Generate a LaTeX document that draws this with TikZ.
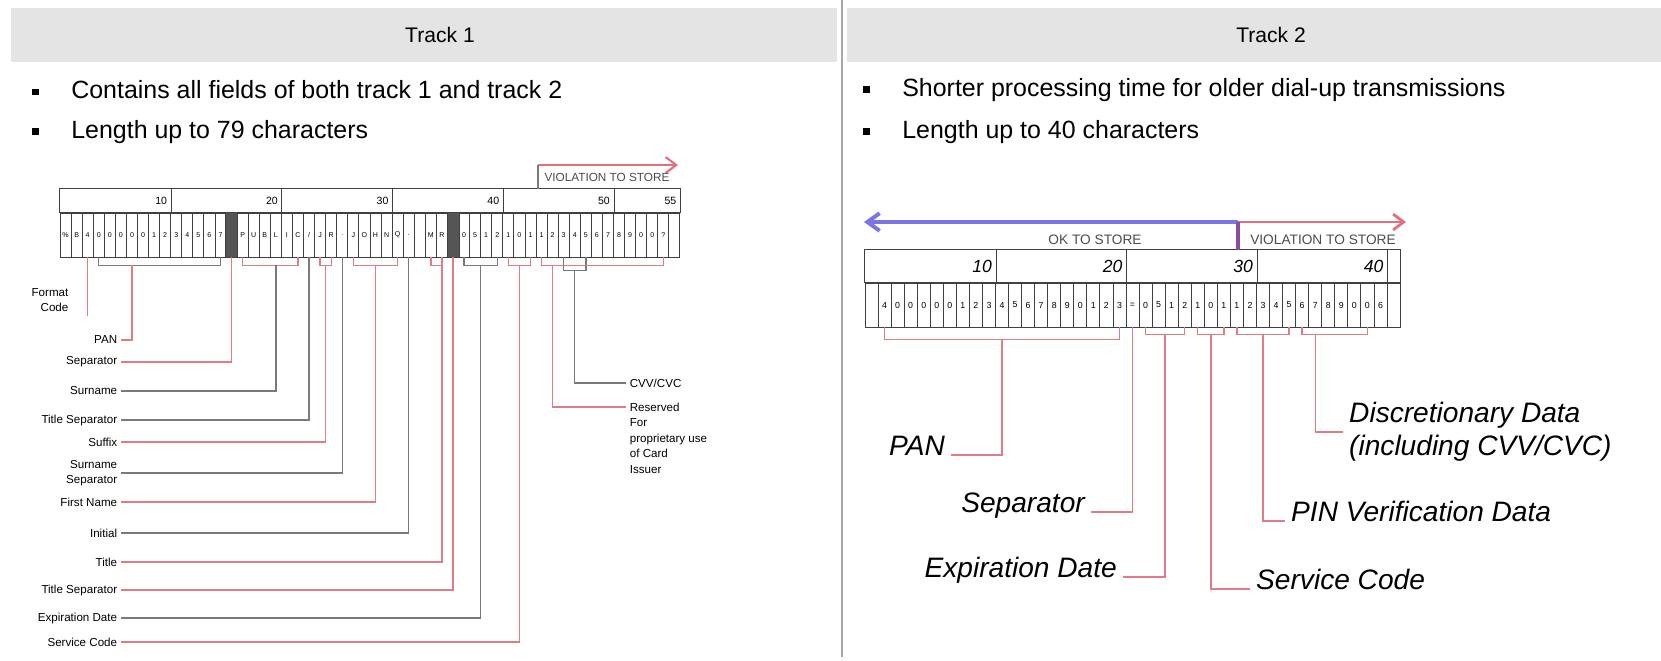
\documentclass[tikz,border=0pt]{standalone}
\usepackage{fontspec}
\setmainfont{Liberation Sans}
\usetikzlibrary{arrows.meta, calc}

\definecolor{bandgray}{HTML}{E4E4E4}
\definecolor{leadred}{HTML}{E07C86}
\definecolor{leadgray}{HTML}{7A7A7A}
\definecolor{okblue}{HTML}{7A74E6}
\definecolor{badred}{HTML}{E0707C}
\definecolor{tickpurple}{HTML}{8A4C9E}
\definecolor{cellgray}{HTML}{555555}

\newcommand{\sqbul}{\makebox[0.78cm][l]{\rule[0.15em]{0.25em}{0.25em}}}

\begin{document}
\begin{tikzpicture}[
    x=0.02cm, y=-0.02cm,
    every node/.style={font=\fontsize{14.2}{16}\selectfont},
    band/.style={fill=bandgray, draw=none},
    header/.style={font=\fontsize{12}{14}\selectfont},
    bullet/.style={anchor=west, inner sep=0pt},
    tabline/.style={draw=black!75, line width=0.5pt},
    t1cell/.style={draw=black!75, line width=0.5pt, minimum width=0.2214cm,
        minimum height=0.88cm, inner sep=0pt, font=\fontsize{4}{4}\selectfont},
    t2cell/.style={t1cell, minimum width=0.261cm, font=\fontsize{5}{5}\selectfont},
    darkcell/.style={fill=cellgray, draw=black!75, line width=0.5pt},
    t1num/.style={font=\fontsize{6}{6}\selectfont, anchor=east, inner sep=1pt},
    t2num/.style={font=\fontsize{10}{10}\selectfont\itshape, anchor=east, inner sep=1pt},
    t1lab/.style={font=\fontsize{6.6}{8.8}\selectfont, inner sep=2pt},
    t2lab/.style={font=\fontsize{16}{19}\selectfont\itshape},
    redlead/.style={draw=leadred, line width=0.8pt},
    graylead/.style={draw=leadgray, line width=0.8pt},
    storelab/.style={font=\fontsize{7.8}{8}\selectfont, text=black!70},
    okarrow/.style={draw=okblue, line width=2.2pt, {Straight Barb[length=7pt,width=10pt]}-},
    badarrow/.style={draw=badred, line width=1.6pt, -{Straight Barb[length=6pt,width=9pt]}},
]
\useasboundingbox (0,0) rectangle (1661,660);

% --- Header bands ---
\fill[band] (11,8) rectangle (837,62);
\fill[band] (847,8) rectangle (1661,62);
\draw[draw=black!35, line width=1pt] (842,0) -- (842,657);
\node[header] (h1) at (440,35) {Track 1};
\node[header] (h2) at (1271,35) {Track 2};

% --- Bullets ---
\node[bullet] (b1a) at (32,90) {\sqbul Contains all fields of both track 1 and track 2};
\node[bullet] (b1b) at (32,132) {\sqbul Length up to 79 characters};
\node[bullet] (b2a) at (863,90) {\sqbul Shorter processing time for older dial-up transmissions};
\node[bullet] (b2b) at (863,132) {\sqbul Length up to 40 characters};

% --- Track 1 card ---
\foreach \ch [count=\k] in {\%,B,4,0,0,0,0,0,1,2,3,4,5,6,7,\textasciicircum,P,U,B,L,I,C,/,J,R,{.},J,O,H,N,Q,{.},{},M,R,\textasciicircum,0,5,1,2,1,0,1,1,2,3,4,5,6,7,8,9,0,0,?,{}}
    \node[t1cell] (t1c\k) at ({60+(\k-0.5)*11.07},235) {\ch};
\filldraw[darkcell] (t1c16.north west) rectangle (t1c16.south east);
\filldraw[darkcell] (t1c36.north west) rectangle (t1c36.south east);
\coordinate (t1top) at ($(t1c1.north west)+(0,-24)$);
\draw[tabline] (t1top) rectangle (t1c56.north east);
\foreach \k/\n in {10/10,20/20,30/30,40/40,50/50,56/55} {
    \draw[tabline] (t1c\k.north east) -- ++(0,-24);
    \node[t1num] (t1n\k) at ($(t1c\k.north east)+(-2,-12)$) {\n};
}

% violation marker
\coordinate (v1a) at (538,165);
\coordinate (v1b) at (678,165);
\draw[badarrow, line width=1.2pt] (v1a) -- (v1b);
\draw[graylead, line width=0.6pt] (v1a) -- (v1a |- t1top);
\node[storelab, font=\fontsize{6.7}{7}\selectfont] (v1lab) at (607,177) {VIOLATION TO STORE};

% --- Track 1 leaders ---
\node[t1lab, align=right] (fmt1) at (50,300) {Format\\Code};
\draw[redlead] (t1c3.south) -- (t1c3.south |- fmt1.south);

\node[t1lab, anchor=east] (pan1) at (121,340) {PAN};
\draw[graylead] (t1c4.south) -- ++(0,8) -| (t1c15.south);
\draw[redlead] ($(t1c7.south)+(0,8)$) |- (pan1.east);

\node[t1lab, anchor=east] (sep1) at (121,362) {Separator};
\draw[redlead] (t1c16.south) |- (sep1.east);

\node[t1lab, anchor=east] (sur1) at (121,391) {Surname};
\draw[redlead] (t1c17.south) -- ++(0,8) -| (t1c22.south);
\draw[graylead] ($(t1c20.south)+(0,8)$) |- (sur1.east);

\node[t1lab, anchor=east] (tsa1) at (121,420) {Title Separator};
\draw[graylead] (t1c23.south) |- (tsa1.east);

\node[t1lab, anchor=east] (suf1) at (121,442) {Suffix};
\draw[redlead] (t1c24.south) -- ++(0,8) -| (t1c25.south);
\draw[redlead] ($(t1c24.south)!0.5!(t1c25.south)+(0,8)$) |- (suf1.east);

\node[t1lab, anchor=east, align=right] (ssp1) at (121,473) {Surname\\Separator};
\draw[graylead] (t1c26.south) |- (ssp1.east);

\node[t1lab, anchor=east] (fst1) at (121,502) {First Name};
\draw[redlead] (t1c27.south) -- ++(0,8) -| (t1c31.south);
\draw[redlead] ($(t1c27.south)!0.5!(t1c31.south)+(0,8)$) |- (fst1.east);

\node[t1lab, anchor=east] (ini1) at (121,533) {Initial};
\draw[graylead] (t1c32.south) |- (ini1.east);

\node[t1lab, anchor=east] (ttl1) at (121,562) {Title};
\draw[redlead] (t1c34.south) -- ++(0,8) -| (t1c35.south);
\draw[redlead] (t1c35.south) |- (ttl1.east);

\node[t1lab, anchor=east] (tsb1) at (121,590) {Title Separator};
\draw[redlead] (t1c36.south) |- (tsb1.east);

\node[t1lab, anchor=east] (exp1) at (121,618) {Expiration Date};
\draw[graylead] (t1c37.south) -- ++(0,8) -| (t1c40.south);
\draw[graylead] ($(t1c37.south)!0.5!(t1c40.south)+(0,8)$) |- (exp1.east);

\node[t1lab, anchor=east] (svc1) at (121,642) {Service Code};
\draw[redlead] (t1c41.south) -- ++(0,8) -| (t1c43.south);
\draw[redlead] ($(t1c41.south)!0.5!(t1c43.south)+(0,8)$) |- (svc1.east);

\node[t1lab, anchor=west] (cvv1) at (626,383) {CVV/CVC};
\draw[graylead] (t1c46.south) -- ++(0,13) -| (t1c48.south);
\draw[graylead] ($(t1c46.south)!0.5!(t1c48.south)+(0,13)$) |- (cvv1.west);

\node[t1lab, anchor=north west, align=left] (rsv1) at (626,399) {Reserved\\For\\proprietary use\\of Card\\Issuer};
\draw[redlead] (t1c44.south) -- ++(0,8) -| (t1c55.south);
\draw[redlead] ($(t1c45.south)+(0,8)$) |- ($(rsv1.north west)+(0,8)$);

% --- Track 2 card ---
\foreach \ch [count=\k] in {{},4,0,0,0,0,0,1,2,3,4,5,6,7,8,9,0,1,2,3,{=},0,5,1,2,1,0,1,1,2,3,4,5,6,7,8,9,0,0,6,{}}
    \node[t2cell] (t2c\k) at ({865+(\k-0.5)*13.05},305) {\ch};
\coordinate (t2top) at ($(t2c1.north west)+(0,-33)$);
\draw[tabline] (t2top) rectangle (t2c41.north east);
\foreach \k in {10,20,30,40} {
    \draw[tabline] (t2c\k.north east) -- ++(0,-33);
    \node[t2num] (t2n\k) at ($(t2c\k.north east)+(-2,-16)$) {\k};
}

% store markers
\coordinate (split) at (1238,222);
\coordinate (okend) at (864,222);
\coordinate (badend) at (1406,222);
\draw[okarrow] (okend) -- (split);
\draw[badarrow] (split) -- (badend);
\draw[draw=tickpurple, line width=2pt] (split) -- (split |- t2top);
\node[storelab] (oklab) at (1095,240) {OK TO STORE};
\node[storelab] (badlab) at (1323,240) {VIOLATION TO STORE};

% --- Track 2 leaders ---
\node[t2lab, anchor=base east] (pan2) at (951,455) {PAN};
\draw[redlead] (t2c2.south) -- ++(0,12) -| (t2c20.south);
\draw[redlead] ($(t2c2.south)!0.5!(t2c20.south)+(0,12)$) |- (pan2.base east);

\node[t2lab, anchor=base east] (sep2) at (1091,512) {Separator};
\draw[redlead] (t2c21.south) |- (sep2.base east);

\node[t2lab, anchor=base east] (exp2) at (1123,577) {Expiration Date};
\draw[redlead] (t2c22.south) -- ++(0,7) -| (t2c25.south);
\draw[redlead] ($(t2c22.south)!0.5!(t2c25.south)+(0,7)$) |- (exp2.base east);

\node[t2lab, anchor=base west] (svc2) at (1250,589) {Service Code};
\draw[redlead] (t2c26.south) -- ++(0,7) -| (t2c28.south);
\draw[redlead] ($(t2c26.south)!0.5!(t2c28.south)+(0,7)$) |- (svc2.base west);

\node[t2lab, anchor=base west] (pin2) at (1285,521) {PIN Verification Data};
\draw[redlead] (t2c29.south) -- ++(0,7) -| (t2c33.south);
\draw[redlead] ($(t2c29.south)!0.5!(t2c33.south)+(0,7)$) |- (pin2.base west);

\node[t2lab, anchor=west, align=left] (disc2) at (1343,432) {Discretionary Data\\(including CVV/CVC)};
\draw[redlead] (t2c34.south) -- ++(0,7) -| (t2c39.south);
\draw[redlead] ($(t2c35.south)+(0,7)$) |- (disc2.west);

\end{tikzpicture}
\end{document}
